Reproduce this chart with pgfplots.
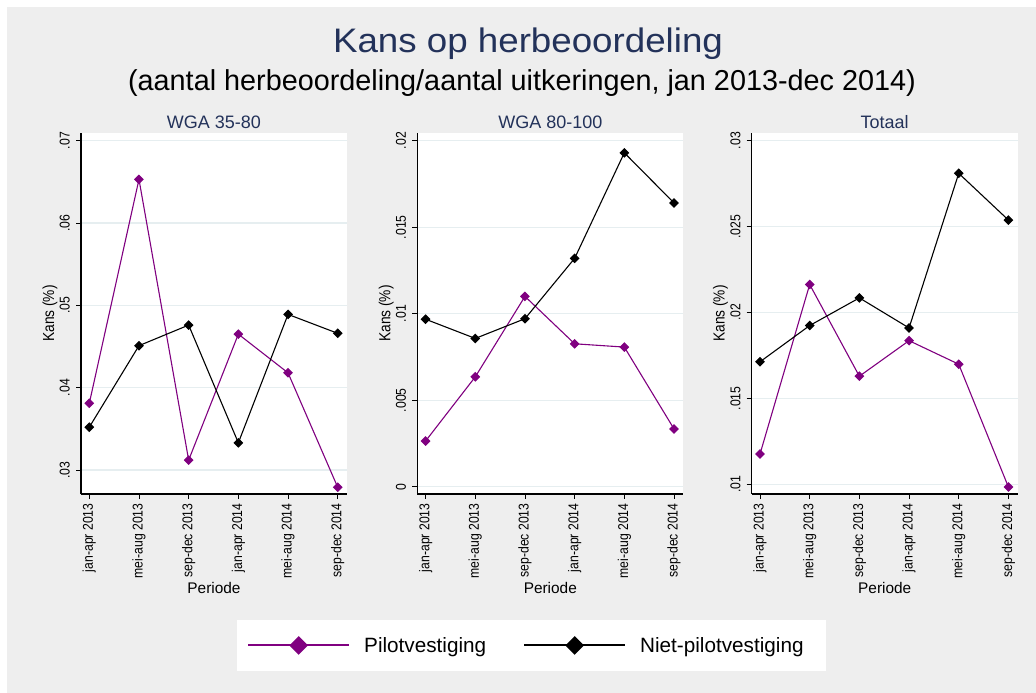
\documentclass[border=0pt]{standalone}
\usepackage{fontspec}
\setmainfont{Liberation Sans}
\newfontfamily\rotfont[FakeStretch=0.86]{Liberation Sans}
\newfontfamily\titlefont[FakeStretch=1.08]{Liberation Sans}
\usepackage{pgfplots}
\pgfplotsset{compat=1.18}
\definecolor{bggray}{RGB}{238,238,238}
\definecolor{gridc}{RGB}{230,238,240}
\definecolor{titlec}{RGB}{35,50,90}
\definecolor{pilot}{RGB}{128,0,128}

\pgfplotsset{
  panel/.style={
    scale only axis, width=266bp, height=361bp,
    anchor=south west,
    axis background/.style={fill=white},
    axis lines*=left,
    axis line style={-, line width=1.2bp, black},
    tick align=outside, major tick length=5bp,
    every tick/.style={black, line width=0.9bp},
    xmin=-0.167, xmax=5.187,
    xtick={0,1,2,3,4,5},
    xticklabels={jan-apr 2013, mei-aug 2013, sep-dec 2013, jan-apr 2014, mei-aug 2014, sep-dec 2014},
    xticklabel style={font=\rotfont\fontsize{14.2bp}{14.2bp}\selectfont, rotate=90, anchor=east, inner sep=0pt},
    xticklabel shift=4.3bp,
    yticklabel style={font=\rotfont\fontsize{14.2bp}{14.2bp}\selectfont, rotate=90, anchor=south, inner sep=0pt},
    yticklabel shift=6bp,
    scaled y ticks=false,
    ymajorgrids, grid style={gridc, line width=1.2bp},
    every axis y label/.style={at={(axis description cs:-0.1015,0.5)}, rotate=90, anchor=base, font=\rotfont\fontsize{16bp}{16bp}\selectfont},
    ylabel={Kans (\%)},
    every axis x label/.style={at={(axis description cs:0.5,-0.277)}, anchor=base, font=\fontsize{15.4bp}{15.4bp}\selectfont},
    xlabel={Periode},
    every axis title/.style={at={(axis description cs:0.5,1.013)}, anchor=base, text=titlec, font=\fontsize{18bp}{18bp}\selectfont},
    clip=false,
    legend image code/.code={
      \draw[mark repeat=2, mark phase=2, #1, line width=2bp, mark size=5.6bp] plot coordinates {(0bp,0bp) (50.5bp,0bp) (101bp,0bp)};
    },
  },
  pilotline/.style={pilot, line width=1.1bp, mark=square*, mark size=2.9bp, mark options={rotate=45, solid, fill=pilot, draw=pilot}},
  nietline/.style={black, line width=1.1bp, mark=square*, mark size=2.9bp, mark options={rotate=45, solid, fill=black, draw=black}},
}

\begin{document}
\begin{tikzpicture}
\path[fill=white] (0bp,0bp) rectangle (1036bp,693bp);
\path[fill=bggray] (7bp,0bp) rectangle (1036bp,686bp);

\node[anchor=base, text=titlec, font=\titlefont\fontsize{34bp}{34bp}\selectfont] at (528bp,640.3bp) {Kans op herbeoordeling};
\node[anchor=base, text=black, font=\fontsize{28.8bp}{28.8bp}\selectfont] at (522bp,602.5bp) {(aantal herbeoordeling/aantal uitkeringen, jan 2013-dec 2014)};

% Panel 1
\begin{axis}[panel, at={(81bp,199bp)},
  title={WGA 35-80},
  ymin=0.027082, ymax=0.070935,
  ytick={0.03,0.04,0.05,0.06,0.07}, yticklabels={.03,.04,.05,.06,.07},
  legend columns=2,
  legend style={at={(axis description cs:0.5865,-0.349)}, anchor=north west,
    draw=none, fill=white, inner xsep=10bp, inner ysep=17bp,
    font=\fontsize{20.7bp}{20.7bp}\selectfont,
    /tikz/every odd column/.append style={column sep=14bp},
    /tikz/every even column/.append style={column sep=37bp},
    nodes={inner sep=0pt}},
]
\addplot[pilotline] coordinates {(0,0.0381) (1,0.0653) (2,0.0312) (3,0.0465) (4,0.0418) (5,0.0279)};
\addlegendentry{Pilotvestiging}
\addplot[nietline] coordinates {(0,0.0352) (1,0.0451) (2,0.0476) (3,0.0333) (4,0.0489) (5,0.0466)};
\addlegendentry{Niet-pilotvestiging\rule{12bp}{0pt}}
\end{axis}

% Panel 2
\begin{axis}[panel, at={(417.3bp,199bp)},
  title={WGA 80-100},
  ymin=-0.000422, ymax=0.020445,
  ytick={0,0.005,0.01,0.015,0.02}, yticklabels={0,.005,.01,.015,.02},
]
\addplot[pilotline] coordinates {(0,0.00264) (1,0.00635) (2,0.0110) (3,0.00826) (4,0.00807) (5,0.00334)};
\addplot[nietline] coordinates {(0,0.00968) (1,0.00857) (2,0.00971) (3,0.0132) (4,0.0193) (5,0.0164)};
\end{axis}

% Panel 3
\begin{axis}[panel, at={(751.7bp,199bp)},
  title={Totaal},
  ymin=0.009435, ymax=0.030448,
  ytick={0.01,0.015,0.02,0.025,0.03}, yticklabels={.01,.015,.02,.025,.03},
]
\addplot[pilotline] coordinates {(0,0.01176) (1,0.02163) (2,0.01629) (3,0.01836) (4,0.01699) (5,0.00984)};
\addplot[nietline] coordinates {(0,0.01713) (1,0.01924) (2,0.02085) (3,0.0191) (4,0.0281) (5,0.02538)};
\end{axis}
\end{tikzpicture}
\end{document}
